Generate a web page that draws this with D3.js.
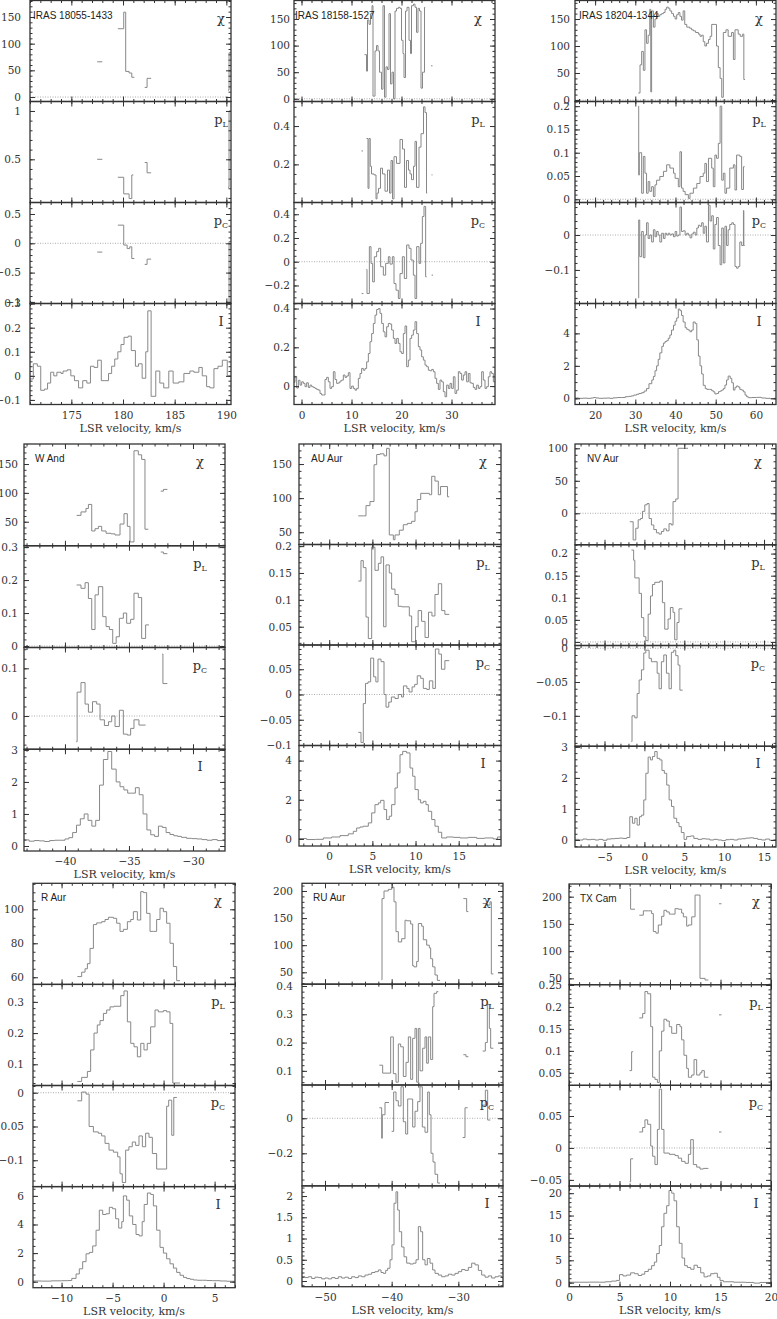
<!DOCTYPE html>
<html>
<head>
<meta charset="utf-8">
<script src="https://cdn.jsdelivr.net/npm/d3@7"></script>
<style>
  body { margin: 0; background: #fff; }
  svg { display: block; }
  .tick text { font-family: "DejaVu Serif", serif; font-size: 10.5px; fill: #333; }
  .tick line { stroke: #333; }
</style>
</head>
<body>
<div id="chart"></div>
<script>
// ---- data: [velocity (bin start), value]; null ends a run ----
const iras18055Chi = [[177.5,66],[178.0,null],[179.5,128],[180.07,159],[180.26,48],[180.59,45],[180.85,37],[181.1,null],[182.1,18],[182.33,35],[182.72,null],[190.16,13],[190.26,83],[190.45,null]];
const iras18055PL = [[177.5,0.5],[178.0,null],[179.5,0.314],[180.07,0.142],[180.59,0.094],[180.85,0.338],[181.0,null],[182.1,0.467],[182.33,0.36],[182.72,null],[190.16,0.21],[190.26,1.0],[190.45,null]];
const iras18055PC = [[177.5,-0.15],[178.0,null],[179.5,0.31],[180.07,-0.03],[180.4,-0.09],[180.65,-0.06],[180.85,-0.26],[181.1,null],[182.1,-0.36],[182.33,-0.27],[182.72,null],[190.16,-1.02],[190.26,0.03],[190.45,null]];
const iras18055I = [[171.0,-0.013],[171.32,0.05],[171.71,0.04],[172.04,-0.06],[172.4,-0.055],[172.7,-0.03],[173.0,0.015],[173.3,0.0],[173.6,0.015],[174.0,0.01],[174.2,0.02],[174.6,0.025],[174.95,0.0],[175.3,-0.02],[175.7,-0.05],[176.1,-0.02],[176.5,-0.03],[176.85,0.04],[177.2,0.035],[177.55,0.065],[177.9,-0.02],[178.25,-0.02],[178.6,0.01],[178.9,0.04],[179.2,0.07],[179.5,0.1],[179.8,0.13],[180.1,0.16],[180.5,0.165],[180.8,0.105],[181.2,0.04],[181.5,0.05],[181.85,-0.01],[182.2,0.1],[182.4,0.27],[182.72,-0.085],[183.17,0.02],[183.56,-0.03],[183.94,-0.05],[184.43,0.02],[184.85,-0.03],[185.4,-0.025],[185.89,0.01],[186.47,0.02],[186.86,0.015],[187.34,0.035],[187.67,0.0],[188.09,-0.045],[188.41,-0.05],[188.8,0.03],[189.19,0.04],[189.61,0.065],[190.09,0.0],[190.45,null]];

const iras18158Chi = [[12.6,83],[13.0,52],[13.2,148],[13.5,140],[13.8,160],[14.1,175],[14.3,5],[14.7,90],[15.0,100],[15.3,90],[15.6,50],[16.0,18],[16.3,175],[16.6,3],[16.9,60],[17.2,55],[17.5,160],[17.8,28],[18.1,50],[18.4,0],[18.7,165],[19.0,170],[19.4,172],[19.7,170],[20.0,110],[20.3,85],[20.5,40],[20.8,165],[21.1,172],[21.5,110],[21.8,85],[22.0,175],[22.4,178],[22.7,172],[23.0,125],[23.3,170],[23.6,165],[23.9,20],[24.2,50],[24.6,172],[24.75,null],[25.9,62],[26.2,null]];
const iras18158PL = [[12.0,0.27],[12.3,null],[13.0,0.335],[13.3,0.075],[13.5,0.335],[13.75,0.19],[14.0,0.15],[14.5,0.145],[14.9,0.02],[15.1,0.05],[15.4,0.075],[15.8,0.18],[16.2,0.15],[16.7,0.06],[17.2,0.17],[17.6,0.05],[17.9,0.22],[18.2,0.02],[18.5,0.24],[19.0,0.205],[19.7,0.33],[20.2,0.28],[20.6,0.08],[21.0,0.22],[21.4,0.17],[21.7,0.15],[22.0,0.12],[22.4,0.19],[22.7,0.32],[23.0,0.08],[23.5,0.29],[23.9,0.36],[24.4,0.5],[24.7,0.47],[25.0,0.05],[25.15,null],[26.0,0.145],[26.2,null]];
const iras18158PC = [[12.03,-0.268],[12.37,null],[13.0,-0.065],[13.1,-0.268],[13.57,0.127],[13.9,-0.014],[14.23,-0.17],[14.57,0.042],[15.03,0.085],[15.43,0.113],[15.83,-0.042],[16.37,-0.113],[16.83,-0.014],[17.37,0.042],[17.7,-0.02],[18.17,0.042],[18.5,-0.184],[18.9,-0.24],[19.37,-0.31],[19.7,-0.1],[20.17,0.042],[20.57,-0.141],[21.03,0.141],[21.5,0.113],[21.9,0.014],[22.37,-0.113],[22.7,-0.31],[23.03,0.127],[23.5,-0.014],[23.83,0.155],[24.17,0.381],[24.5,0.466],[24.83,-0.127],[25.03,null],[26.03,-0.113],[26.3,null]];
const iras18158I = [[-1.5,0.02],[-1.3,0.05],[-0.97,-0.01],[-0.63,0.03],[-0.3,0.005],[0.03,0.022],[0.37,0.014],[0.7,-0.003],[1.03,0.017],[1.37,-0.007],[1.7,0.005],[2.03,-0.003],[2.37,-0.007],[2.7,-0.012],[3.03,-0.017],[3.37,-0.021],[3.7,-0.038],[4.03,-0.046],[4.37,-0.046],[4.7,0.034],[5.03,0.045],[5.37,0.022],[5.7,-0.012],[6.03,-0.003],[6.37,0.074],[6.7,0.034],[7.03,0.014],[7.37,0.017],[7.7,0.026],[8.03,0.031],[8.37,0.057],[8.7,0.045],[9.03,0.052],[9.37,0.069],[9.7,-0.012],[10.03,0.0],[10.37,-0.012],[10.7,-0.021],[11.03,-0.012],[11.37,0.04],[11.7,0.065],[12.03,0.091],[12.37,0.082],[12.7,0.091],[13.03,0.125],[13.37,0.168],[13.7,0.229],[14.03,0.271],[14.37,0.323],[14.7,0.366],[15.03,0.395],[15.37,0.4],[15.7,0.375],[16.03,0.323],[16.37,0.28],[16.7,0.254],[17.03,0.306],[17.37,0.323],[17.7,0.32],[18.03,0.289],[18.37,0.246],[18.7,0.22],[19.03,0.246],[19.37,0.22],[19.7,0.177],[20.03,0.168],[20.37,0.271],[20.7,0.31],[21.03,0.1],[21.37,0.134],[21.7,0.246],[22.03,0.263],[22.37,0.289],[22.7,0.332],[23.03,0.271],[23.37,0.203],[23.7,0.186],[24.03,0.151],[24.37,0.134],[24.7,0.108],[25.03,0.1],[25.37,0.082],[25.7,0.079],[26.03,0.086],[26.37,0.074],[26.7,0.04],[27.03,0.014],[27.37,-0.017],[27.7,0.031],[28.03,0.022],[28.37,-0.029],[28.7,-0.055],[29.03,0.005],[29.37,-0.012],[29.7,0.014],[30.03,-0.012],[30.37,0.048],[30.7,-0.038],[31.03,-0.021],[31.37,0.074],[31.7,0.065],[32.03,0.031],[32.37,0.057],[32.7,0.074],[33.03,0.022],[33.37,0.065],[33.7,0.017],[34.03,0.014],[34.37,-0.007],[34.7,-0.017],[35.03,0.005],[35.37,-0.012],[35.7,-0.003],[36.03,0.074],[36.37,0.031],[36.7,-0.012],[37.03,-0.003],[37.37,0.048],[37.7,0.074],[38.03,0.065],[38.37,0.022],[38.7,null]];

const iras18204Chi = [[30.75,13],[31.17,65],[31.58,90],[32.0,55],[32.4,130],[32.8,105],[33.2,120],[33.6,168],[33.85,15],[34.06,165],[34.5,135],[34.9,150],[35.3,160],[35.7,155],[36.1,158],[36.56,160],[37.0,162],[37.4,168],[37.8,172],[38.2,170],[38.6,165],[39.05,160],[39.5,155],[39.9,150],[40.3,158],[40.7,162],[41.1,155],[41.5,148],[41.9,165],[42.3,140],[42.8,135],[43.5,133],[44.0,130],[44.45,128],[45.0,125],[45.7,122],[46.1,118],[46.5,120],[46.9,108],[47.3,100],[47.7,105],[48.2,112],[48.6,118],[49.0,140],[49.6,140],[50.2,100],[50.65,60],[51.1,40],[51.5,5],[51.9,125],[52.55,130],[53.1,118],[53.95,125],[54.4,75],[54.8,130],[55.6,122],[56.1,118],[56.7,122],[57.0,38],[57.3,null]];
const iras18204PL = [[30.75,0.2],[30.85,0.052],[31.0,0.1],[31.58,0.013],[32.0,0.092],[32.4,0.056],[32.8,0.013],[33.2,0.038],[33.6,0.017],[34.06,0.027],[34.5,0.006],[34.9,0.031],[35.3,0.041],[36.1,0.049],[37.0,0.06],[37.8,0.074],[38.6,0.067],[39.5,0.056],[39.9,0.045],[40.7,0.027],[41.1,0.102],[41.5,0.024],[41.9,0.017],[42.4,0.01],[43.2,0.002],[43.6,0.013],[44.45,0.024],[45.3,0.034],[46.1,0.049],[46.9,0.056],[47.3,0.077],[47.7,0.038],[48.2,0.088],[49.0,0.067],[49.4,0.027],[49.8,0.095],[50.2,0.088],[50.65,0.12],[51.1,0.2],[51.5,0.041],[51.9,0.056],[52.3,0.013],[52.7,0.024],[53.5,0.067],[54.4,0.074],[54.8,0.02],[55.2,0.095],[56.0,0.092],[56.45,0.021],[56.9,0.07],[57.2,null]];
const iras18204PC = [[30.75,-0.18],[30.85,0.043],[31.1,-0.062],[31.58,0.01],[32.0,-0.065],[32.4,0.0],[32.8,0.035],[33.2,-0.01],[33.6,0.0],[34.06,-0.02],[34.5,0.015],[34.9,-0.005],[35.3,0.01],[35.7,0.0],[36.1,-0.02],[36.56,0.005],[37.0,-0.01],[37.4,0.005],[37.8,0.0],[38.2,0.005],[38.6,0.0],[39.05,0.003],[39.5,-0.005],[39.9,0.01],[40.3,-0.003],[40.7,0.0],[41.1,0.08],[41.5,0.01],[41.9,0.012],[42.4,0.0],[42.8,0.005],[43.2,0.0],[43.6,-0.008],[44.05,0.003],[44.45,0.008],[44.9,0.0],[45.3,0.02],[45.7,0.028],[46.1,0.025],[46.5,0.035],[46.9,0.005],[47.3,0.025],[47.7,-0.02],[48.2,0.085],[48.6,0.04],[49.0,0.055],[49.4,-0.04],[49.8,0.03],[50.2,0.05],[50.65,-0.03],[51.1,-0.085],[51.5,0.02],[51.9,-0.08],[52.3,0.025],[52.7,-0.03],[53.1,0.015],[53.5,0.03],[54.0,0.035],[54.4,0.03],[54.8,-0.09],[55.2,-0.095],[55.6,-0.09],[56.0,-0.02],[56.45,-0.03],[56.9,0.07],[57.0,-0.03],[57.2,null]];
const iras18204I = [[15,0.02],[16,0.0],[17,0.01],[18,0.0],[19,0.02],[19.6,0.05],[20.2,0.02],[21,0.0],[22,0.01],[23,0.02],[23.7,0.0],[24.5,0.03],[25.5,0.05],[26.6,0.05],[27.5,0.1],[28.3,0.12],[29,0.15],[29.6,0.2],[30.3,0.25],[30.9,0.3],[31.6,0.35],[32.2,0.45],[32.8,0.6],[33.4,0.9],[34.1,1.13],[34.5,1.35],[34.9,1.7],[35.3,2.0],[35.7,2.4],[36.1,2.8],[36.6,3.2],[37.0,3.4],[37.4,3.5],[37.8,3.55],[38.2,3.7],[38.6,3.9],[39.0,4.2],[39.5,4.5],[39.9,4.75],[40.3,4.95],[40.7,5.5],[41.1,5.4],[41.5,5.1],[41.9,4.7],[42.4,4.35],[42.8,4.25],[43.2,4.2],[43.6,4.1],[44.0,4.2],[44.4,4.7],[44.9,4.6],[45.3,3.6],[45.7,2.6],[46.1,2.0],[46.5,1.5],[46.9,0.8],[47.4,0.6],[47.8,0.55],[48.4,0.55],[49.0,0.47],[49.4,0.4],[49.8,0.27],[50.3,0.3],[50.7,0.41],[51.1,0.45],[51.5,0.51],[51.9,0.6],[52.3,0.82],[52.7,1.13],[53.1,1.37],[53.6,1.23],[54.0,0.96],[54.4,0.51],[54.8,0.68],[55.2,0.76],[55.6,0.7],[56.0,0.55],[56.5,0.5],[56.9,0.4],[57.3,0.2],[57.7,0.1],[58.1,0.04],[59,0.05],[60.2,0.06],[61.4,0.02],[62.5,0.0],[63.5,-0.02],[64.5,0.0],[65,null]];

const wAndChi = [[-39.09,61],[-38.75,67],[-38.36,73],[-38.17,80],[-37.91,34],[-37.65,38],[-37.39,42],[-37.13,34],[-36.79,30],[-36.4,29],[-36.09,27],[-35.7,46],[-35.39,64],[-35.13,42],[-34.92,15],[-34.61,173],[-34.27,166],[-34.01,158],[-33.75,37],[-33.49,null],[-32.52,103],[-32.31,106],[-32.0,null]];
const wAndPL = [[-39.09,0.185],[-38.75,0.175],[-38.43,0.192],[-38.17,0.144],[-37.91,0.05],[-37.65,0.155],[-37.39,0.18],[-37.05,0.089],[-36.79,0.059],[-36.53,0.05],[-36.27,0.008],[-36.0,0.028],[-35.75,0.084],[-35.44,0.1],[-35.18,0.069],[-34.87,0.081],[-34.61,0.16],[-34.27,0.147],[-34.01,0.023],[-33.7,0.064],[-33.44,null],[-32.52,0.285],[-32.31,0.28],[-32.0,null]];
const wAndPC = [[-39.12,-0.054],[-39.05,0.05],[-38.75,0.07],[-38.43,0.025],[-38.17,0.008],[-37.85,0.03],[-37.52,0.025],[-37.26,-0.008],[-36.92,-0.02],[-36.6,-0.012],[-36.35,0.0],[-36.09,-0.022],[-35.75,0.012],[-35.44,-0.038],[-35.13,-0.04],[-34.87,-0.026],[-34.61,-0.008],[-34.22,-0.019],[-33.7,null],[-32.4,0.13],[-32.35,0.068],[-32.0,null]];
const wAndI = [[-43.2,0.19],[-42.8,0.15],[-42.4,0.17],[-42.0,0.16],[-41.6,0.14],[-41.2,0.17],[-40.8,0.18],[-40.4,0.18],[-40.0,0.22],[-39.7,0.26],[-39.4,0.42],[-39.1,0.65],[-38.8,0.85],[-38.5,1.0],[-38.2,0.8],[-37.9,0.62],[-37.6,0.8],[-37.3,1.9],[-37.0,2.7],[-36.65,2.95],[-36.35,2.4],[-36.0,2.0],[-35.7,1.85],[-35.4,1.75],[-35.1,1.65],[-34.8,1.65],[-34.5,1.82],[-34.2,1.6],[-33.9,1.0],[-33.6,0.5],[-33.3,0.35],[-33.0,0.3],[-32.7,0.62],[-32.4,0.58],[-32.1,0.42],[-31.8,0.36],[-31.5,0.32],[-31.2,0.3],[-30.9,0.27],[-30.5,0.24],[-30.1,0.23],[-29.7,0.22],[-29.3,0.2],[-28.9,0.18],[-28.5,0.2],[-28.1,0.17],[-27.7,0.18],[-27.4,null]];

const auAurChi = [[3.37,74],[4.0,74],[4.26,89],[4.72,95],[5.19,149],[5.5,164],[5.88,165],[6.35,162],[6.65,173],[6.96,46],[7.43,39],[7.62,46],[8.12,53],[8.58,61],[9.05,63],[9.55,66],[9.94,80],[10.2,98],[10.6,107],[11.1,107],[11.6,105],[11.87,132],[12.25,125],[12.64,105],[12.9,117],[13.3,117],[13.7,102],[13.9,null]];
const auAurPL = [[3.37,0.135],[3.68,0.173],[3.95,0.16],[4.26,0.068],[4.53,0.028],[4.92,0.198],[5.3,0.155],[5.69,0.168],[6.0,0.18],[6.3,0.05],[6.58,0.165],[6.96,0.15],[7.23,0.12],[7.62,0.11],[8.0,0.088],[8.4,0.087],[9.28,0.07],[9.55,0.022],[10.0,0.05],[10.3,0.08],[10.7,0.06],[11.1,0.03],[11.5,0.077],[11.9,0.07],[12.25,0.11],[12.64,0.13],[13.03,0.08],[13.4,0.073],[13.9,null]];
const auAurPC = [[3.37,-0.075],[3.68,-0.095],[3.95,-0.018],[4.2,0.022],[4.5,0.025],[4.8,0.072],[5.15,0.035],[5.4,0.025],[5.65,0.07],[6.0,0.065],[6.35,0.0],[6.58,-0.025],[6.9,-0.015],[7.2,-0.005],[7.62,-0.008],[8.0,0.0],[8.38,-0.005],[8.6,0.017],[9.0,0.012],[9.25,0.005],[9.6,0.015],[9.9,0.02],[10.2,0.037],[10.6,0.032],[10.9,0.012],[11.3,0.01],[11.6,0.027],[12.0,0.012],[12.3,0.09],[12.7,0.08],[13.0,0.05],[13.4,0.067],[13.9,null]];
const auAurI = [[-3.5,0.02],[-2.61,-0.03],[-1.6,-0.02],[-0.68,0.05],[0.28,0.1],[1.25,0.17],[2.21,0.26],[2.79,0.39],[3.18,0.56],[3.57,0.61],[3.95,0.65],[4.53,0.82],[4.92,1.33],[5.3,1.75],[5.69,1.84],[5.96,1.97],[6.35,1.5],[6.65,0.99],[6.96,1.16],[7.23,1.75],[7.62,2.6],[7.89,3.37],[8.2,4.3],[8.51,4.47],[8.97,4.39],[9.36,3.62],[9.67,3.2],[9.94,2.52],[10.32,2.0],[10.59,1.84],[10.9,1.92],[11.21,1.75],[11.48,1.41],[11.87,0.99],[12.25,0.65],[12.64,0.34],[13.03,0.05],[13.6,0.1],[14.4,0.08],[15.15,0.05],[16.1,0.08],[17.08,0.03],[18.0,0.05],[19.0,0.0],[19.5,0.1],[19.9,null]];

const nvAurChi = [[-1.83,-13],[-1.41,-41],[-1.08,-23],[-0.78,-10],[-0.49,-8],[-0.24,3],[0.05,13],[0.34,15],[0.59,-8],[0.88,-18],[1.18,-25],[1.51,-30],[1.84,-32],[2.13,-28],[2.43,-24],[2.76,-27],[3.09,-16],[3.38,-18],[3.59,18],[3.93,22],[4.22,100],[5.47,null]];
const nvAurPL = [[-1.62,0.208],[-1.35,0.185],[-1.2,0.145],[-0.66,0.11],[-0.37,0.055],[-0.08,0.012],[0.18,0.003],[0.47,0.063],[0.76,0.104],[1.01,0.13],[1.3,0.135],[1.93,0.138],[2.26,0.089],[2.55,0.029],[2.97,0.052],[3.26,0.078],[3.59,0.067],[3.8,0.005],[4.09,0.044],[4.34,0.075],[4.76,null]];
const nvAurPC = [[-1.62,-0.138],[-1.55,-0.1],[-1.2,-0.103],[-0.91,-0.067],[-0.66,-0.047],[-0.37,-0.032],[-0.08,-0.007],[0.18,-0.003],[0.59,-0.015],[0.88,-0.02],[1.18,-0.02],[1.6,-0.037],[1.84,-0.06],[2.13,-0.02],[2.43,-0.01],[2.76,-0.037],[3.09,-0.06],[3.38,-0.006],[3.68,-0.003],[3.93,-0.011],[4.22,-0.025],[4.45,-0.062],[4.8,null]];
const nvAurI = [[-8.7,0.02],[-8.2,0.0],[-7.7,0.03],[-7.2,0.01],[-6.7,0.02],[-6.2,0.0],[-5.7,0.02],[-5.2,-0.01],[-4.7,0.03],[-4.2,0.04],[-3.7,0.05],[-3.2,0.06],[-2.7,0.05],[-2.2,0.08],[-1.83,0.75],[-1.5,0.54],[-1.2,0.7],[-0.91,0.48],[-0.62,0.75],[-0.37,0.8],[-0.08,1.29],[0.18,2.15],[0.47,2.67],[0.76,2.58],[1.01,2.69],[1.3,2.85],[1.6,2.63],[1.93,2.58],[2.2,2.24],[2.5,2.15],[2.8,1.77],[3.1,1.29],[3.4,1.08],[3.7,0.7],[4.05,0.56],[4.34,0.43],[4.63,0.24],[4.97,0.02],[5.3,0.11],[5.8,0.13],[6.2,0.05],[6.7,0.02],[7.2,0.04],[7.7,0.03],[8.2,0.0],[8.7,0.02],[9.2,0.0],[9.7,-0.02],[10.2,0.01],[10.7,0.02],[11.2,0.0],[11.7,0.03],[12.2,0.04],[12.7,0.06],[13.2,0.07],[13.7,0.05],[14.2,0.02],[14.7,0.0],[15.2,0.03],[15.7,-0.01],[16.2,0.01],[16.5,null]];

const rAurChi = [[-8.45,60.4],[-8.03,63],[-7.7,65],[-7.47,68],[-7.21,77],[-6.88,91],[-6.56,92],[-6.07,92.7],[-5.74,94],[-5.41,95.3],[-4.92,94.7],[-4.6,91.8],[-4.27,87],[-3.94,88.2],[-3.55,92.7],[-3.22,94],[-2.96,98.6],[-2.57,93.7],[-2.24,110.4],[-1.98,109.8],[-1.66,97.6],[-1.33,87],[-1.0,87],[-0.68,94],[-0.35,100.6],[-0.02,98.6],[0.3,91.8],[0.63,80],[0.96,66.3],[1.28,58],[1.61,null]];
const rAurPL = [[-8.45,0.045],[-8.03,0.058],[-7.47,0.077],[-7.15,0.146],[-6.82,0.2],[-6.5,0.226],[-6.23,0.24],[-5.9,0.263],[-5.58,0.274],[-5.25,0.284],[-4.86,0.286],[-4.2,0.32],[-3.88,0.335],[-3.55,0.236],[-3.22,0.167],[-2.9,0.156],[-2.57,0.124],[-2.24,0.167],[-1.92,0.146],[-1.6,0.167],[-1.27,0.22],[-0.84,0.274],[-0.52,0.268],[-0.02,0.272],[0.3,0.268],[0.63,0.231],[0.9,0.04],[1.61,null]];
const rAurPC = [[-8.45,-0.012],[-8.03,0.001],[-7.6,-0.002],[-7.3,-0.05],[-6.88,-0.058],[-6.4,-0.06],[-6.07,-0.064],[-5.74,-0.075],[-5.35,-0.085],[-4.92,-0.088],[-4.5,-0.095],[-4.27,-0.12],[-4.05,-0.133],[-3.72,-0.085],[-3.4,-0.08],[-3.07,-0.073],[-2.74,-0.078],[-2.41,-0.064],[-2.08,-0.08],[-1.76,-0.06],[-1.43,-0.066],[-1.1,-0.09],[-0.68,-0.113],[0.3,-0.02],[0.5,-0.011],[0.8,-0.063],[1.0,-0.007],[1.3,null]];
const rAurI = [[-12.8,0.05],[-12.0,0.04],[-11.0,0.06],[-10.0,0.07],[-9.4,0.08],[-9.0,0.23],[-8.58,0.54],[-8.26,0.9],[-7.93,1.4],[-7.6,1.95],[-7.28,2.05],[-6.95,2.5],[-6.62,3.6],[-6.3,5.0],[-5.97,4.7],[-5.64,4.75],[-5.32,5.2],[-5.0,5.1],[-4.7,4.4],[-4.4,3.75],[-4.1,4.2],[-3.94,6.0],[-3.62,5.7],[-3.36,4.6],[-3.03,4.0],[-2.7,3.3],[-2.4,3.2],[-2.1,4.2],[-1.9,5.4],[-1.59,6.2],[-1.26,6.1],[-1.0,5.3],[-0.68,3.6],[-0.35,2.4],[-0.02,2.0],[0.3,1.6],[0.63,1.25],[0.96,0.95],[1.28,0.65],[1.61,0.45],[1.95,0.3],[2.27,0.22],[2.6,0.17],[2.92,0.12],[3.3,0.1],[3.8,0.1],[4.23,0.08],[4.8,0.07],[5.53,0.05],[6.2,0.03],[7.0,null]];

const ruAurChi = [[-41.5,36],[-41.45,186],[-41.15,200],[-40.5,203],[-40.0,207],[-39.65,180],[-39.35,125],[-39.0,106],[-38.5,112],[-38.0,146],[-37.75,145],[-37.15,139],[-36.85,62],[-36.65,60],[-36.25,70],[-36.0,140],[-35.5,135],[-35.25,110],[-34.75,100],[-34.35,95],[-34.15,75],[-33.85,60],[-33.5,45],[-33.15,35],[-32.75,null],[-29.25,186],[-28.75,162],[-28.5,null],[-26.35,177],[-25.75,174],[-25.25,180],[-25.05,47],[-24.75,null]];
const ruAurPL = [[-41.85,0.12],[-41.35,0.092],[-40.15,0.22],[-39.75,0.09],[-39.35,0.06],[-39.0,0.195],[-38.65,0.185],[-38.25,0.08],[-37.85,0.13],[-37.5,0.22],[-37.15,0.07],[-36.85,0.215],[-36.5,0.25],[-36.25,0.06],[-36.0,0.25],[-35.75,0.1],[-35.35,0.18],[-35.0,0.22],[-34.75,0.127],[-34.5,0.22],[-34.15,0.14],[-33.85,0.327],[-33.65,0.374],[-33.25,0.38],[-33.0,null],[-29.25,0.157],[-28.85,0.15],[-28.5,null],[-26.35,0.17],[-25.95,0.2],[-25.65,0.335],[-25.35,0.25],[-25.15,0.18],[-24.75,null]];
const ruAurPC = [[-41.85,0.06],[-41.5,-0.114],[-41.4,0.02],[-41.0,0.09],[-40.4,null],[-40.0,-0.075],[-39.7,0.15],[-39.35,0.1],[-39.0,0.07],[-38.6,0.18],[-38.25,-0.02],[-37.9,-0.09],[-37.6,0.11],[-37.2,0.11],[-36.85,-0.05],[-36.5,0.04],[-36.1,0.095],[-35.75,0.18],[-35.4,-0.05],[-35.0,-0.08],[-34.6,0.15],[-34.35,0.02],[-34.1,-0.2],[-33.8,-0.25],[-33.5,-0.32],[-33.1,-0.37],[-32.75,null],[-29.35,-0.11],[-29.0,0.06],[-28.6,null],[-26.35,0.075],[-25.95,0.16],[-25.6,-0.01],[-25.2,null]];
const ruAurI = [[-53.45,0.1],[-53.0,0.08],[-52.5,0.1],[-52.0,0.06],[-51.5,0.09],[-51.0,0.08],[-50.5,0.05],[-50.0,0.07],[-49.5,0.05],[-49.0,0.08],[-48.5,0.06],[-48.0,0.1],[-47.5,0.07],[-47.0,0.09],[-46.5,0.06],[-46.0,0.1],[-45.5,0.08],[-45.0,0.12],[-44.5,0.1],[-44.0,0.14],[-43.5,0.16],[-43.0,0.2],[-42.5,0.22],[-42.0,0.26],[-41.6,0.2],[-41.25,0.18],[-40.9,0.25],[-40.6,0.3],[-40.25,0.5],[-39.95,0.85],[-39.65,1.83],[-39.35,2.1],[-39.1,1.67],[-38.85,1.16],[-38.5,0.8],[-38.15,0.57],[-37.75,0.42],[-37.25,0.4],[-36.75,0.42],[-36.35,0.5],[-36.0,1.28],[-35.65,1.16],[-35.35,0.5],[-35.0,0.38],[-34.65,0.53],[-34.25,0.42],[-33.85,0.26],[-33.5,0.18],[-33.0,0.14],[-32.5,0.1],[-32.0,0.12],[-31.5,0.16],[-31.0,0.14],[-30.5,0.18],[-30.0,0.22],[-29.5,0.27],[-29.0,0.25],[-28.5,0.32],[-28.0,0.42],[-27.5,0.38],[-27.0,0.25],[-26.5,0.14],[-26.0,0.09],[-25.5,0.12],[-25.0,0.07],[-24.5,0.1],[-24.0,0.12],[-23.5,0.08],[-23.3,null]];

const txCamChi = [[6.0,215],[6.1,177],[6.53,null],[6.96,166],[7.36,174],[7.85,174],[8.18,169],[8.35,136],[8.61,133],[8.84,148],[9.17,164],[9.4,175],[9.67,172],[9.93,168],[10.17,168],[10.5,178],[10.82,177],[11.15,170],[11.32,163],[11.65,146],[11.82,148],[12.15,163],[12.48,203],[12.97,50],[13.47,47],[13.8,null],[14.85,187],[15.1,null]];
const txCamPL = [[6.0,0.055],[6.2,0.098],[6.35,null],[6.96,0.175],[7.29,0.185],[7.52,0.235],[7.79,0.23],[8.09,0.155],[8.28,0.04],[8.51,0.035],[8.75,0.028],[8.94,0.1],[9.17,0.145],[9.4,0.172],[9.67,0.168],[9.93,0.155],[10.17,0.14],[10.5,0.14],[10.66,0.16],[10.99,0.155],[11.15,0.125],[11.38,0.09],[11.65,0.06],[11.82,0.04],[12.15,0.045],[12.38,0.08],[12.64,0.045],[12.97,0.05],[13.15,0.055],[13.4,0.04],[13.8,null],[14.85,0.182],[15.1,null]];
const txCamPC = [[6.0,-0.053],[6.1,-0.017],[6.35,null],[6.96,0.025],[7.29,0.032],[7.52,0.044],[7.79,0.037],[8.09,0.003],[8.28,-0.013],[8.51,-0.026],[8.75,0.029],[8.94,0.092],[9.17,0.029],[9.4,-0.008],[9.93,-0.01],[10.5,-0.012],[10.82,-0.016],[11.15,-0.021],[11.49,-0.024],[11.82,-0.01],[12.05,0.013],[12.31,-0.026],[12.64,-0.03],[12.97,-0.033],[13.3,-0.032],[13.8,null],[14.85,0.025],[15.1,null]];
const txCamI = [[0,0.1],[1,0.1],[2,0.12],[3,0.1],[3.6,0.2],[4.2,0.35],[4.7,0.5],[5.0,1.8],[5.35,1.5],[5.7,1.7],[6.1,2.2],[6.5,2.0],[6.85,1.6],[7.2,1.9],[7.5,2.5],[7.85,3.0],[8.18,3.8],[8.45,4.6],[8.68,6.5],[8.94,8.3],[9.17,12.5],[9.4,15.5],[9.67,17.2],[9.9,20.6],[10.17,20.0],[10.4,18.3],[10.66,12.5],[10.92,8.8],[11.19,5.5],[11.45,3.8],[11.72,3.4],[12.05,3.0],[12.38,3.9],[12.71,3.4],[13.04,2.2],[13.37,1.3],[13.7,1.5],[14.03,2.0],[14.36,2.1],[14.69,1.2],[14.95,0.5],[15.28,0.2],[16.3,0.1],[17.5,0.05],[18.3,-0.1],[18.9,0.05],[20,null]];

// tick labels: [x, χ, pL, pC, I]
const ticksIras18055 = [[175,180,185,190],[0,50,100,150],[0.5,1],[-1,-0.5,0,0.5],[-0.1,0,0.1,0.2,0.3]];
const ticksIras18158 = [[0,10,20,30],[0,50,100,150],[0.2,0.4],[-0.2,0,0.2,0.4],[0,0.2,0.4]];
const ticksIras18204 = [[20,30,40,50,60],[0,50,100,150],[0,0.05,0.1,0.15,0.2],[-0.1,0],[0,2,4]];
const ticksWAnd = [[-40,-35,-30],[50,100,150],[0,0.1,0.2,0.3],[0,0.1],[0,1,2,3]];
const ticksAuAur = [[0,5,10,15],[50,100,150],[0.05,0.1,0.15,0.2],[-0.1,-0.05,0,0.05],[0,2,4]];
const ticksNvAur = [[-5,0,5,10,15],[0,50,100],[0,0.05,0.1,0.15,0.2],[-0.1,-0.05,0],[0,1,2,3]];
const ticksRAur = [[-10,-5,0,5],[60,80,100],[0.1,0.2,0.3],[-0.1,-0.05,0],[0,2,4,6]];
const ticksRuAur = [[-50,-40,-30],[50,100,150,200],[0.1,0.2,0.3,0.4],[-0.2,0],[0,0.5,1,1.5,2]];
const ticksTxCam = [[0,5,10,15,20],[50,100,150,200],[0.05,0.1,0.15,0.2,0.25],[-0.05,0,0.05],[0,5,10,15,20]];

// ---- layout: box = [left, top, width, height] ----
const panels = [
  { name: "IRAS 18055-1433", box: [30, 0.5, 201, 404], nameDx: 3, labelPad: 9, tagRight: 10, xDomain: [171, 190.45], xMinor: 1, ticks: ticksIras18055,
    series: [iras18055Chi, iras18055PL, iras18055PC, iras18055I],
    yDomains: [[-8.4, 180.9], [0.053, 1.098], [-1.027, 0.696], [-0.119, 0.3005]], yMinor: [10, 0.1, 0.1, 0.02] },
  { name: "IRAS 18158-1527", box: [294, 0.5, 201, 404], nameDx: 1, labelPad: 4, tagRight: 17, xDomain: [-1.5, 38.7], xMinor: 2, ticks: ticksIras18158,
    series: [iras18158Chi, iras18158PL, iras18158PC, iras18158I],
    yDomains: [[-5.1, 184.8], [0.001, 0.528], [-0.352, 0.499], [-0.095, 0.426]], yMinor: [10, 0.05, 0.05, 0.05] },
  { name: "IRAS 18204-1344", box: [575, 0.5, 201, 404], nameDx: 4, labelPad: 5, tagRight: 17, xDomain: [15, 65], xMinor: 2, ticks: ticksIras18204,
    series: [iras18204Chi, iras18204PL, iras18204PC, iras18204I],
    yDomains: [[-2.8, 184.3], [-0.0069, 0.21], [-0.196, 0.093], [-0.38, 5.84]], yMinor: [10, 0.01, 0.02, 0.5] },
  { name: "W And", box: [24, 444, 201, 407], nameDx: 11, labelPad: 6, tagRight: 25, xDomain: [-43.2, -27.5], xMinor: 1, ticks: ticksWAnd,
    series: [wAndChi, wAndPL, wAndPC, wAndI],
    yDomains: [[8.4, 184.7], [-0.0045, 0.304], [-0.0697, 0.1436], [-0.156, 3.02]], yMinor: [10, 0.02, 0.02, 0.2] },
  { name: "AU Aur", box: [299, 444, 202, 402], nameDx: 12, labelPad: 7, tagRight: 18, xDomain: [-3.5, 19.9], xMinor: 1, ticks: ticksAuAur,
    series: [auAurChi, auAurPL, auAurPC, auAurI],
    yDomains: [[32, 179.4], [0.016, 0.203], [-0.101, 0.098], [-0.36, 4.77]], yMinor: [10, 0.01, 0.01, 0.5] },
  { name: "NV Aur", box: [575, 444, 201, 403], nameDx: 12, labelPad: 7, tagRight: 18, xDomain: [-8.7, 16.5], xMinor: 1, ticks: ticksNvAur,
    series: [nvAurChi, nvAurPL, nvAurPC, nvAurI],
    yDomains: [[-48.4, 106.6], [-0.008, 0.22], [-0.145, 0.004], [-0.226, 3.02]], yMinor: [10, 0.01, 0.01, 0.2] },
  { name: "R Aur", box: [33, 883.3, 202, 404.4], nameDx: 8, labelPad: 9, tagRight: 17, xDomain: [-12.8, 7.0], xMinor: 1, ticks: ticksRAur,
    series: [rAurChi, rAurPL, rAurPC, rAurI],
    yDomains: [[55.8, 115.3], [0.032, 0.356], [-0.139, 0.0107], [-0.42, 6.65]], yMinor: [5, 0.02, 0.01, 0.5] },
  { name: "RU Aur", box: [302, 883.3, 201, 403.4], nameDx: 11, labelPad: 9, tagRight: 16, xDomain: [-53.45, -23.3], xMinor: 2, ticks: ticksRuAur,
    series: [ruAurChi, ruAurPL, ruAurPC, ruAurI],
    yDomains: [[28.1, 214.2], [0.05, 0.4065], [-0.386, 0.19], [-0.134, 2.24]], yMinor: [10, 0.02, 0.05, 0.1] },
  { name: "TX Cam", box: [569, 884, 202, 402.7], nameDx: 11, labelPad: 7, tagRight: 15, xDomain: [0, 20], xMinor: 1, ticks: ticksTxCam,
    series: [txCamChi, txCamPL, txCamPC, txCamI],
    yDomains: [[38.4, 223.3], [0.0215, 0.2507], [-0.0596, 0.098], [-0.9, 21.6]], yMinor: [10, 0.01, 0.01, 1] }
];

const seriesLabels = [["χ", null], ["p", "L"], ["p", "C"], ["I", null]];
const dataColor = "#888";
const frameColor = "#333";

const svg = d3.select("#chart").append("svg")
  .attr("width", 777)
  .attr("height", 1319)
  .style("background", "#fff");

// every bin keeps its value up to the next bin edge
function closeRuns(series) {
  const out = [];
  series.forEach((p, i) => {
    out.push(p);
    const next = series[i + 1];
    if (p[1] != null && next && next[1] == null) out.push([next[0], p[1]]);
  });
  return out;
}

function minorTicks(domain, step) {
  const lo = Math.min(...domain), hi = Math.max(...domain);
  const out = [];
  for (let k = Math.ceil(lo / step - 1e-9); k * step <= hi + 1e-9; k++) out.push(+(k * step).toFixed(6));
  return out;
}

const fmt = d3.format("~g");
const clean = (g) => g.select(".domain").remove();

panels.forEach((p, pi) => {
  const [left, top, w, h] = p.box;
  const sh = h / 4;
  const g = svg.append("g").attr("transform", `translate(${left},${top})`);
  const x = d3.scaleLinear().domain(p.xDomain).range([0, w]);
  const xMinorTicks = minorTicks(p.xDomain, p.xMinor);

  p.series.forEach((data, si) => {
    const y0 = si * sh;
    const dom = p.yDomains[si];
    const y = d3.scaleLinear().domain(dom).range([y0 + sh, y0]);
    const clipId = `clip-${pi}-${si}`;

    g.append("clipPath").attr("id", clipId)
      .append("rect").attr("x", 0).attr("y", y0).attr("width", w).attr("height", sh);

    // dotted zero line for χ, pL, pC
    if (si < 3 && dom[0] < 0 && dom[1] > 0) {
      g.append("line")
        .attr("x1", 0).attr("x2", w)
        .attr("y1", y(0)).attr("y2", y(0))
        .attr("stroke", "#999")
        .attr("stroke-width", 0.8)
        .attr("stroke-dasharray", "1,1.5");
    }

    const line = d3.line()
      .defined((d) => d[1] != null)
      .x((d) => x(d[0]))
      .y((d) => y(d[1]))
      .curve(d3.curveStepAfter);

    g.append("path")
      .datum(closeRuns(data))
      .attr("clip-path", `url(#${clipId})`)
      .attr("fill", "none")
      .attr("stroke", dataColor)
      .attr("stroke-width", 1)
      .attr("d", line);

    // y axes, ticks pointing inwards on both sides
    const yMajor = p.ticks[si + 1];
    const yMin = minorTicks(dom, p.yMinor[si]);
    g.append("g").call(d3.axisLeft(y).tickValues(yMajor).tickSize(-5).tickPadding(p.labelPad).tickFormat(fmt)).call(clean);
    g.append("g").call(d3.axisLeft(y).tickValues(yMin).tickSize(-2.5).tickFormat("")).call(clean);
    g.append("g").attr("transform", `translate(${w},0)`)
      .call(d3.axisRight(y).tickValues(yMajor).tickSize(-5).tickFormat("")).call(clean);
    g.append("g").attr("transform", `translate(${w},0)`)
      .call(d3.axisRight(y).tickValues(yMin).tickSize(-2.5).tickFormat("")).call(clean);

    // x ticks at top and bottom of each strip
    g.append("g").attr("transform", `translate(0,${y0})`)
      .call(d3.axisTop(x).tickValues(p.ticks[0]).tickSize(-5).tickFormat("")).call(clean);
    g.append("g").attr("transform", `translate(0,${y0})`)
      .call(d3.axisTop(x).tickValues(xMinorTicks).tickSize(-2.5).tickFormat("")).call(clean);
    const bottom = g.append("g").attr("transform", `translate(0,${y0 + sh})`);
    if (si === 3) {
      bottom.call(d3.axisBottom(x).tickValues(p.ticks[0]).tickSize(-5).tickPadding(7).tickFormat(fmt)).call(clean);
    } else {
      bottom.call(d3.axisBottom(x).tickValues(p.ticks[0]).tickSize(-5).tickFormat("")).call(clean);
    }
    g.append("g").attr("transform", `translate(0,${y0 + sh})`)
      .call(d3.axisBottom(x).tickValues(xMinorTicks).tickSize(-2.5).tickFormat("")).call(clean);

    // strip frame
    g.append("rect")
      .attr("x", 0).attr("y", y0)
      .attr("width", w).attr("height", sh)
      .attr("fill", "none")
      .attr("stroke", frameColor)
      .attr("stroke-width", 1.3);

    // quantity label, top right
    const [base, sub] = seriesLabels[si];
    const t = g.append("text")
      .attr("x", w - p.tagRight)
      .attr("y", y0 + 22)
      .attr("text-anchor", "middle")
      .attr("font-family", "DejaVu Serif, serif")
      .attr("font-size", 13)
      .attr("fill", "#333");
    t.append("tspan").text(base);
    if (sub) t.append("tspan").attr("font-size", 8).attr("dy", 3).text(sub);
  });

  // star name
  g.append("text")
    .attr("x", p.nameDx)
    .attr("y", 18)
    .attr("font-family", "Liberation Sans, Arial, sans-serif")
    .attr("font-size", 10)
    .attr("fill", "#222")
    .text(p.name);

  // x axis title
  g.append("text")
    .attr("x", w / 2)
    .attr("y", h + 27)
    .attr("text-anchor", "middle")
    .attr("font-family", "DejaVu Serif, serif")
    .attr("font-size", 11)
    .attr("fill", "#333")
    .text("LSR velocity, km/s");
});
</script>
</body>
</html>
